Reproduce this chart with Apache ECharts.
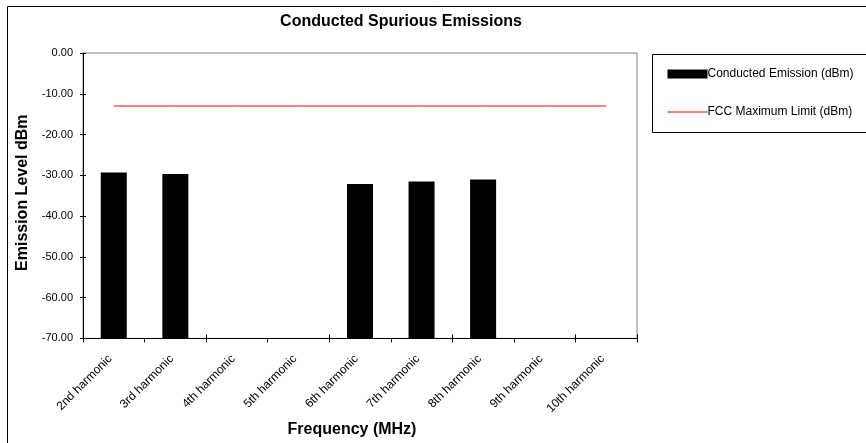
<!DOCTYPE html>
<html><head><meta charset="utf-8">
<script src="https://cdn.jsdelivr.net/npm/echarts@6/dist/echarts.min.js"></script>
<style>html,body{margin:0;padding:0;background:#fff}#c{width:866px;height:443px}</style>
</head><body><div id="c"></div>
<script>
const categories = ['2nd harmonic','3rd harmonic','4th harmonic','5th harmonic','6th harmonic','7th harmonic','8th harmonic','9th harmonic','10th harmonic'];
const emission = [-29.3, -29.7, null, null, -32.1, -31.5, -31.0, null, null];
const fccLimit = [-13, -13, -13, -13, -13, -13, -13, -13, -13];
const yTicks = { min: -70, max: 0, interval: 10 };

const FONT = 'Liberation Sans, Arial, sans-serif';
const chart = echarts.init(document.getElementById('c'), null, {renderer: 'canvas'});
chart.setOption({
  animation: false,
  backgroundColor: '#fff',
  title: {
    text: 'Conducted Spurious Emissions',
    left: 396, top: 9, textAlign: 'center',
    textStyle: {fontFamily: FONT, fontSize: 16, fontWeight: 'bold', color: '#000'}
  },
  graphic: [
    {type: 'rect', shape: {x: 7.5, y: 6.5, width: 870, height: 450}, style: {fill: 'none', stroke: '#000', lineWidth: 1}, silent: true},
    {type: 'rect', shape: {x: 652.5, y: 54.5, width: 230, height: 78}, style: {fill: 'none', stroke: '#000', lineWidth: 1}, silent: true}
  ],
  legend: {
    orient: 'vertical', left: 662, top: 63, itemGap: 26,
    itemWidth: 40, itemHeight: 9,
    textStyle: {fontFamily: FONT, fontSize: 12, color: '#000', padding: [0,0,0,-5]},
    data: [
      {name: 'Conducted Emission (dBm)', icon: 'rect'},
      {name: 'FCC Maximum Limit (dBm)',
       itemStyle: {color: 'rgba(0,0,0,0)', borderWidth: 0, borderColor: 'rgba(0,0,0,0)'},
       lineStyle: {color: '#ff0000', width: 1}}
    ]
  },
  grid: {left: 83, top: 53, right: 229, bottom: 103, show: true, borderColor: '#808080', borderWidth: 1},
  xAxis: [{
    type: 'category', data: categories, boundaryGap: true, position: 'bottom',
    name: 'Frequency (MHz)', nameLocation: 'middle', nameGap: 80,
    nameTextStyle: {fontFamily: FONT, fontSize: 16, fontWeight: 'bold', color: '#000', padding: [0, 16, 0, 0]},
    axisLine: {onZero: false, lineStyle: {color: '#000'}},
    axisTick: {show: true, alignWithLabel: false, length: 4, lineStyle: {color: '#000'}},
    axisLabel: {rotate: 45, interval: 0, fontFamily: FONT, fontSize: 12, color: '#000', margin: 15, padding: [0, 5, 0, 0]},
    splitLine: {show: false}
  }, {
    type: 'category', data: categories, boundaryGap: true, position: 'bottom',
    axisLine: {show: false, onZero: false},
    axisTick: {show: true, inside: true, alignWithLabel: false, length: 4, lineStyle: {color: '#000'}},
    axisLabel: {show: false}, splitLine: {show: false}
  }],
  yAxis: [{
    type: 'value', min: yTicks.min, max: yTicks.max, interval: yTicks.interval, startValue: yTicks.min,
    position: 'left',
    name: 'Emission Level dBm', nameLocation: 'middle', nameGap: 52,
    nameTextStyle: {fontFamily: FONT, fontSize: 16, fontWeight: 'bold', color: '#000', padding: [0, 0, 0, 6]},
    axisLine: {show: true, onZero: false, lineStyle: {color: '#000'}},
    axisTick: {show: true, length: 3, lineStyle: {color: '#000'}},
    axisLabel: {fontFamily: FONT, fontSize: 11, color: '#000', margin: 10, formatter: v => v.toFixed(2)},
    splitLine: {show: false}
  }, {
    type: 'value', min: yTicks.min, max: yTicks.max, interval: yTicks.interval, position: 'left',
    axisLine: {show: false, onZero: false},
    axisTick: {show: true, inside: true, length: 3, lineStyle: {color: '#000'}},
    axisLabel: {show: false}, splitLine: {show: false}
  }],
  series: [
    {name: 'Conducted Emission (dBm)', type: 'bar', data: emission, barWidth: 26,
     itemStyle: {color: '#000'}},
    {name: 'FCC Maximum Limit (dBm)', type: 'line', data: fccLimit, symbol: 'none',
     lineStyle: {color: '#ff0000', width: 1}, itemStyle: {color: '#ff0000'}}
  ]
});
</script></body></html>
